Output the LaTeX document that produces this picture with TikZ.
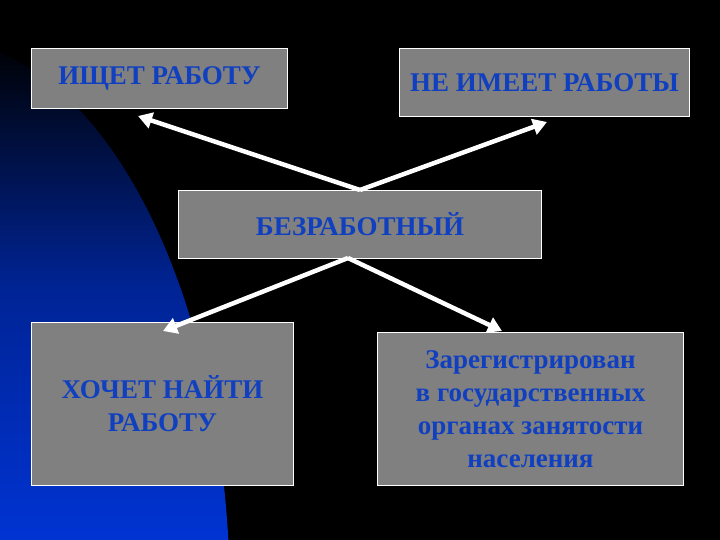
\documentclass[tikz,border=0pt]{standalone}
\usepackage{fontspec}
\setmainfont{Liberation Serif}
\usetikzlibrary{arrows.meta}
\begin{document}
\begin{tikzpicture}[x=1pt,y=-1pt,
  box/.style={draw=white,line width=1pt,fill={rgb,255:red,128;green,128;blue,128},text={rgb,255:red,16;green,64;blue,192},font=\bfseries\fontsize{27}{33}\selectfont,align=center,inner sep=0pt,anchor=north west},
  arr/.style={white,line width=4.5pt,-{Triangle[length=14pt,width=16pt]}}]
\useasboundingbox (0,0) rectangle (720,540);
\fill[black] (0,0) rectangle (720,540);
\begin{scope}
\clip (0,0) rectangle (720,540);
\clip (-62,600) ellipse [x radius=292, y radius=560];
\shade[top color=black,bottom color={rgb,255:red,0;green,51;blue,210},middle color={rgb,255:red,0;green,36;blue,150}] (0,40) rectangle (300,540);
\end{scope}
\node[box,minimum width=256pt,minimum height=60pt] (a) at (31,48) {ИЩЕТ РАБОТУ};
\node[box,minimum width=290pt,minimum height=68pt] (b) at (399,48) {НЕ ИМЕЕТ РАБОТЫ};
\node[box,minimum width=363pt,minimum height=68pt] (c) at (178,190) {БЕЗРАБОТНЫЙ};
\node[box,minimum width=262pt,minimum height=163pt] (d) at (31,322) {ХОЧЕТ НАЙТИ\\РАБОТУ};
\node[box,minimum width=306pt,minimum height=153pt] (e) at (377,332) {Зарегистрирован\\в государственных\\органах занятости\\населения};
\coordinate (ct) at (360,190);
\coordinate (cb) at (348,258);
\coordinate (at) at (138,116);
\coordinate (bt) at (547,122);
\coordinate (dt) at (163,331);
\coordinate (et) at (502,331);
\draw[arr] (ct) -- (at);
\draw[arr] (ct) -- (bt);
\draw[arr] (cb) -- (dt);
\draw[arr] (cb) -- (et);
\end{tikzpicture}
\end{document}
